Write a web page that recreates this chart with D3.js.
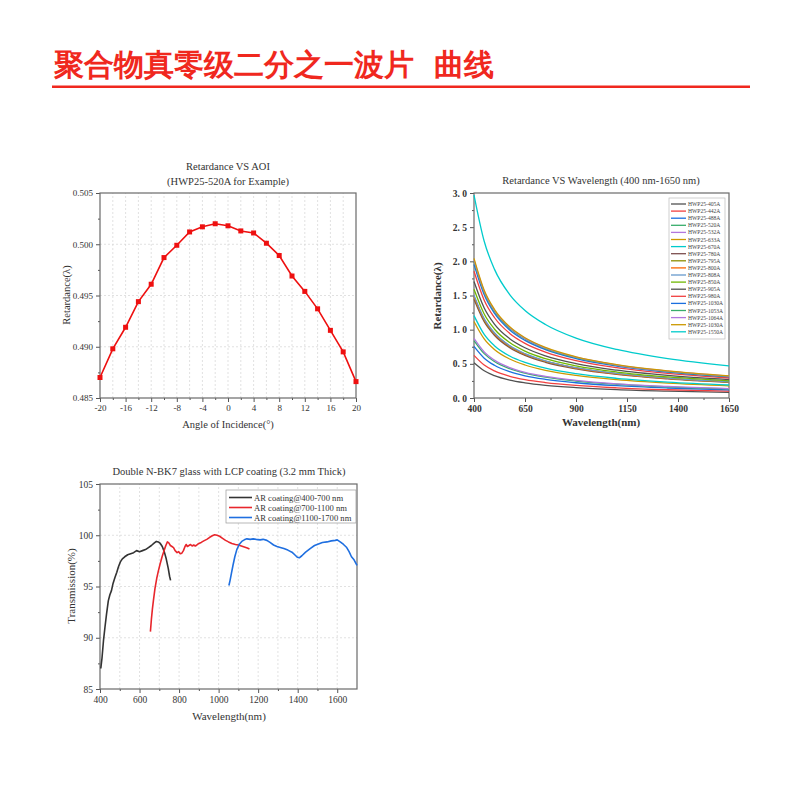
<!DOCTYPE html>
<html>
<head>
<meta charset="utf-8">
<script src="https://cdn.jsdelivr.net/npm/d3@7"></script>
<style>
  body { margin: 0; background: #fff; }
  svg text { font-family: "Liberation Serif", "DejaVu Serif", serif; }
</style>
</head>
<body>
<svg id="chart" width="800" height="800"></svg>
<script>
// ---- chart 1: retardance vs angle of incidence
const aoiAngles = [-20, -18, -16, -14, -12, -10, -8, -6, -4, -2, 0, 2, 4, 6, 8, 10, 12, 14, 16, 18, 20];
const aoiRetard = [0.4870, 0.4898, 0.4919, 0.4944, 0.4961, 0.4987, 0.4999, 0.5012, 0.5017, 0.5020, 0.5018,
                   0.5013, 0.5011, 0.5001, 0.4989, 0.4969, 0.4954, 0.4937, 0.4916, 0.4895, 0.4866];
const aoiXTicks = [-20, -16, -12, -8, -4, 0, 4, 8, 12, 16, 20];
const aoiYTicks = [0.485, 0.490, 0.495, 0.500, 0.505];

// ---- chart 2: retardance vs wavelength, one row per plate
const wlSamples = [400, 450, 500, 575, 650, 750, 900, 1100, 1350, 1650];
const plateNames = ["HWP25-405A", "HWP25-442A", "HWP25-488A", "HWP25-520A", "HWP25-532A", "HWP25-633A",
  "HWP25-670A", "HWP25-780A", "HWP25-795A", "HWP25-800A", "HWP25-808A", "HWP25-850A", "HWP25-905A",
  "HWP25-980A", "HWP25-1030A", "HWP25-1053A", "HWP25-1064A", "HWP25-1030A", "HWP25-1550A"];
const plateRetard = [
  [0.515, 0.398, 0.327, 0.262, 0.222, 0.186, 0.152, 0.123, 0.100, 0.081],
  [0.624, 0.482, 0.396, 0.318, 0.269, 0.226, 0.184, 0.149, 0.121, 0.099],
  [0.755, 0.583, 0.479, 0.385, 0.325, 0.273, 0.223, 0.180, 0.146, 0.119],
  [0.841, 0.649, 0.534, 0.429, 0.363, 0.304, 0.248, 0.201, 0.163, 0.133],
  [0.872, 0.674, 0.554, 0.445, 0.376, 0.316, 0.258, 0.208, 0.169, 0.138],
  [1.120, 0.865, 0.711, 0.571, 0.483, 0.405, 0.331, 0.268, 0.217, 0.177],
  [1.205, 0.930, 0.765, 0.614, 0.520, 0.436, 0.356, 0.288, 0.233, 0.190],
  [1.445, 1.116, 0.918, 0.736, 0.623, 0.523, 0.427, 0.345, 0.280, 0.228],
  [1.476, 1.140, 0.938, 0.752, 0.637, 0.535, 0.436, 0.353, 0.286, 0.233],
  [1.487, 1.148, 0.944, 0.758, 0.641, 0.538, 0.439, 0.355, 0.288, 0.235],
  [1.504, 1.161, 0.955, 0.766, 0.649, 0.544, 0.444, 0.359, 0.291, 0.238],
  [1.591, 1.229, 1.010, 0.811, 0.686, 0.576, 0.470, 0.380, 0.308, 0.251],
  [1.704, 1.316, 1.082, 0.868, 0.735, 0.617, 0.503, 0.407, 0.330, 0.269],
  [1.855, 1.432, 1.178, 0.945, 0.800, 0.672, 0.547, 0.443, 0.359, 0.293],
  [1.955, 1.510, 1.241, 0.996, 0.843, 0.708, 0.577, 0.467, 0.379, 0.309],
  [2.000, 1.545, 1.270, 1.019, 0.863, 0.724, 0.590, 0.478, 0.387, 0.316],
  [2.022, 1.562, 1.284, 1.031, 0.872, 0.732, 0.597, 0.483, 0.392, 0.320],
  [2.044, 1.578, 1.298, 1.042, 0.881, 0.740, 0.603, 0.488, 0.396, 0.323],
  [2.970, 2.294, 1.886, 1.514, 1.281, 1.076, 0.877, 0.710, 0.575, 0.469]
];
const plateColors = ["#515151", "#f14040", "#1a6fdf", "#37ad6b", "#b177de", "#cc9900", "#00cbcc",
  "#7d4e4e", "#8e8e00", "#fb6501", "#6699cc", "#6fb802", "#515151", "#f14040", "#1a6fdf", "#37ad6b",
  "#b177de", "#cc9900", "#00cbcc"];
const wlXTicks = [400, 650, 900, 1150, 1400, 1650];
const wlYTicks = [0, 0.5, 1.0, 1.5, 2.0, 2.5, 3.0];

// ---- chart 3: transmission, [wavelength nm, %]
const arVis = [[404,87.0],[410,88.0],[418,89.8],[425,91.0],[433,92.3],[442,93.6],[450,94.2],[458,94.6],
  [466,95.3],[476,95.9],[485,96.4],[493,96.9],[503,97.4],[513,97.7],[525,97.9],[540,98.1],[555,98.2],
  [570,98.3],[585,98.5],[600,98.4],[615,98.5],[630,98.6],[645,98.8],[660,99.0],[672,99.2],[685,99.4],
  [695,99.35],[705,99.2],[715,98.9],[725,98.4],[735,97.7],[745,96.8],[752,96.0],[757,95.6]];
const arNir = [[655,90.6],[660,91.8],[665,92.8],[670,93.6],[678,94.8],[687,95.8],[695,96.5],[704,97.2],
  [714,97.9],[724,98.5],[733,99.0],[741,99.35],[748,99.25],[756,99.0],[764,98.9],[772,98.8],[780,98.5],
  [790,98.3],[798,98.4],[806,98.2],[814,98.25],[822,98.5],[830,98.9],[836,99.1],[842,98.9],[850,99.0],
  [858,99.1],[866,98.95],[874,99.05],[882,98.95],[890,99.05],[900,99.2],[912,99.3],[925,99.45],[940,99.6],
  [955,99.8],[968,99.95],[980,100.05],[992,100.0],[1005,99.9],[1020,99.7],[1035,99.5],[1050,99.35],
  [1067,99.2],[1085,99.1],[1100,99.05],[1115,98.95],[1130,98.85],[1145,98.75],[1156,98.65]];
const arIr = [[1052,95.1],[1058,95.6],[1065,96.3],[1073,97.1],[1082,97.9],[1092,98.6],[1104,99.1],
  [1117,99.4],[1130,99.55],[1143,99.65],[1160,99.6],[1175,99.65],[1190,99.6],[1210,99.55],[1225,99.6],
  [1244,99.5],[1260,99.3],[1278,99.05],[1295,98.9],[1312,98.8],[1330,98.7],[1350,98.55],[1371,98.35],
  [1385,98.1],[1398,97.85],[1408,97.8],[1421,98.0],[1440,98.35],[1463,98.7],[1485,99.0],[1505,99.15],
  [1525,99.3],[1548,99.35],[1570,99.45],[1590,99.5],[1600,99.55],[1615,99.35],[1632,99.1],[1648,98.8],
  [1660,98.4],[1672,97.9],[1685,97.6],[1700,97.05]];
const arNames = ["AR coating@400-700 nm", "AR coating@700-1100 nm", "AR coating@1100-1700 nm"];
const arColors = ["#333333", "#e8262c", "#1f6fe0"];
const trXTicks = [400, 600, 800, 1000, 1200, 1400, 1600];
const trYTicks = [85, 90, 95, 100, 105];

const svg = d3.select("#chart");

// page heading (two parts, wide gap between them)
const heading = svg.append("g")
    .style("font-family", "'Noto Sans CJK SC', sans-serif")
    .style("font-weight", 900)
    .style("font-size", "30px")
    .attr("fill", "#f0281e");
heading.append("text").attr("x", 54).attr("y", 75).text("聚合物真零级二分之一波片");
heading.append("text").attr("x", 434).attr("y", 75).text("曲线");
svg.append("rect").attr("x", 52).attr("y", 85.5).attr("width", 698).attr("height", 2.5).attr("fill", "#f0281e");

// draws frame, ticks and labels for one panel
function panel(x, y, xTicks, yTicks, xMinor, yMinor, xFmt, yFmt, opt) {
    const g = svg.append("g");
    const [x0, x1] = x.range(), [y0, y1] = y.range();
    if (opt.grid) {
        g.selectAll(".vg").data(opt.gridX).enter().append("line")
            .attr("x1", d => x(d)).attr("x2", d => x(d)).attr("y1", y0).attr("y2", y1)
            .attr("stroke", "#d4d4d4").attr("stroke-width", 0.7).attr("stroke-dasharray", "2,2");
        g.selectAll(".hg").data(opt.gridY).enter().append("line")
            .attr("x1", x0).attr("x2", x1).attr("y1", d => y(d)).attr("y2", d => y(d))
            .attr("stroke", "#d4d4d4").attr("stroke-width", 0.7).attr("stroke-dasharray", "2,2");
    }
    g.append("g").attr("transform", `translate(0,${y0})`)
        .call(d3.axisBottom(x).tickValues(xTicks).tickFormat(xFmt).tickSize(4).tickSizeOuter(0).tickPadding(3));
    g.append("g").attr("transform", `translate(0,${y0})`)
        .call(d3.axisBottom(x).tickValues(xMinor).tickFormat("").tickSize(2).tickSizeOuter(0));
    g.append("g").attr("transform", `translate(${x0},0)`)
        .call(d3.axisLeft(y).tickValues(yTicks).tickFormat(yFmt).tickSize(4).tickSizeOuter(0).tickPadding(3));
    g.append("g").attr("transform", `translate(${x0},0)`)
        .call(d3.axisLeft(y).tickValues(yMinor).tickFormat("").tickSize(2).tickSizeOuter(0));
    g.selectAll(".domain").remove();
    g.selectAll(".tick line").attr("stroke", "#555");
    g.selectAll(".tick text").attr("fill", "#333")
        .style("font-size", opt.tickSize + "px").style("font-weight", opt.bold ? "bold" : "normal");
    g.append("rect").attr("x", x0).attr("y", y1).attr("width", x1 - x0).attr("height", y0 - y1)
        .attr("fill", "none").attr("stroke", "#6a6a6a").attr("stroke-width", 1.2);
    return g;
}

function label(x, y, txt, size, rot, bold) {
    svg.append("text").attr("transform", `translate(${x},${y}) rotate(${rot || 0})`)
        .attr("text-anchor", "middle").attr("fill", "#333")
        .style("font-size", size + "px").style("font-weight", bold ? "bold" : "normal").text(txt);
}

// ---------- chart 1
const x1s = d3.scaleLinear().domain([-20, 20]).range([100, 356]);
const y1s = d3.scaleLinear().domain([0.485, 0.505]).range([398, 193]);
panel(x1s, y1s, aoiXTicks, aoiYTicks, d3.range(-18, 20, 4), [0.4875, 0.4925, 0.4975, 0.5025],
    d => d, d3.format(".3f"),
    { grid: true, gridX: d3.range(-18, 20, 2), gridY: [0.490, 0.495, 0.500], tickSize: 9 });
svg.append("path").datum(aoiAngles.map((a, i) => [a, aoiRetard[i]]))
    .attr("fill", "none").attr("stroke", "#ee1010").attr("stroke-width", 1.6)
    .attr("d", d3.line().x(d => x1s(d[0])).y(d => y1s(d[1])));
svg.selectAll(".sq").data(aoiAngles).enter().append("rect")
    .attr("x", d => x1s(d) - 2.5).attr("y", (d, i) => y1s(aoiRetard[i]) - 2.5)
    .attr("width", 5).attr("height", 5).attr("fill", "#ee1010");
label(228, 170, "Retardance VS AOI", 10.5);
label(228, 185, "(HWP25-520A for Example)", 10.5);
label(228, 428, "Angle of Incidence(°)", 10.5);
label(70, 295, "Retardance(λ)", 10.5, -90);

// ---------- chart 2
const x2s = d3.scaleLinear().domain([400, 1650]).range([474, 729]);
const y2s = d3.scaleLinear().domain([0, 3]).range([398, 193]);
panel(x2s, y2s, wlXTicks, wlYTicks, d3.range(525, 1650, 250), d3.range(0.25, 3, 0.5),
    d => d, d => d.toFixed(1).replace(".", ". "), { grid: false, tickSize: 9.5, bold: true });
const wlLine = d3.line().curve(d3.curveMonotoneX).x((d, i) => x2s(wlSamples[i])).y(d => y2s(d));
svg.append("g").selectAll("path").data(plateRetard).enter().append("path")
    .attr("fill", "none").attr("stroke", (d, i) => plateColors[i]).attr("stroke-width", 1.3)
    .attr("d", wlLine);
// legend
const lg = svg.append("g");
lg.append("rect").attr("x", 669).attr("y", 198).attr("width", 56).attr("height", 141)
    .attr("fill", "#fff").attr("stroke", "#bbb").attr("stroke-width", 0.7);
plateNames.forEach((n, i) => {
    const yy = 204 + i * 7.1;
    lg.append("line").attr("x1", 671).attr("x2", 686).attr("y1", yy).attr("y2", yy)
        .attr("stroke", plateColors[i]).attr("stroke-width", 1.3);
    lg.append("text").attr("x", 688).attr("y", yy + 2).attr("fill", "#444")
        .style("font-size", "5.6px").text(n);
});
label(601, 184, "Retardance VS Wavelength (400 nm-1650 nm)", 10.5);
label(601, 426, "Wavelength(nm)", 11, 0, true);
label(441, 296, "Retardance(λ)", 11, -90, true);

// ---------- chart 3
const x3s = d3.scaleLinear().domain([400, 1700]).range([100, 357]);
const y3s = d3.scaleLinear().domain([85, 105]).range([689, 484]);
panel(x3s, y3s, trXTicks, trYTicks, d3.range(500, 1700, 200), d3.range(87.5, 105, 5),
    d => d, d => d,
    { grid: true, gridX: d3.range(500, 1700, 100), gridY: [90, 95, 100], tickSize: 9.5 });
const trLine = d3.line().x(d => x3s(d[0])).y(d => y3s(d[1]));
[arVis, arNir, arIr].forEach((s, i) => {
    svg.append("path").datum(s).attr("fill", "none").attr("stroke", arColors[i])
        .attr("stroke-width", 1.6).attr("stroke-linejoin", "round").attr("d", trLine);
});
const lg3 = svg.append("g");
lg3.append("rect").attr("x", 226).attr("y", 490).attr("width", 130).attr("height", 33)
    .attr("fill", "#fff").attr("stroke", "#999").attr("stroke-width", 0.7);
arNames.forEach((n, i) => {
    const yy = 497.5 + i * 10;
    lg3.append("line").attr("x1", 229).attr("x2", 252).attr("y1", yy).attr("y2", yy)
        .attr("stroke", arColors[i]).attr("stroke-width", 1.6);
    lg3.append("text").attr("x", 254).attr("y", yy + 3).attr("fill", "#333")
        .style("font-size", "8.6px").text(n);
});
label(229, 475, "Double N-BK7 glass with LCP coating (3.2 mm Thick)", 10.5);
label(229, 720, "Wavelength(nm)", 11);
label(75, 586, "Transmission(%)", 11, -90);
</script>
</body>
</html>
